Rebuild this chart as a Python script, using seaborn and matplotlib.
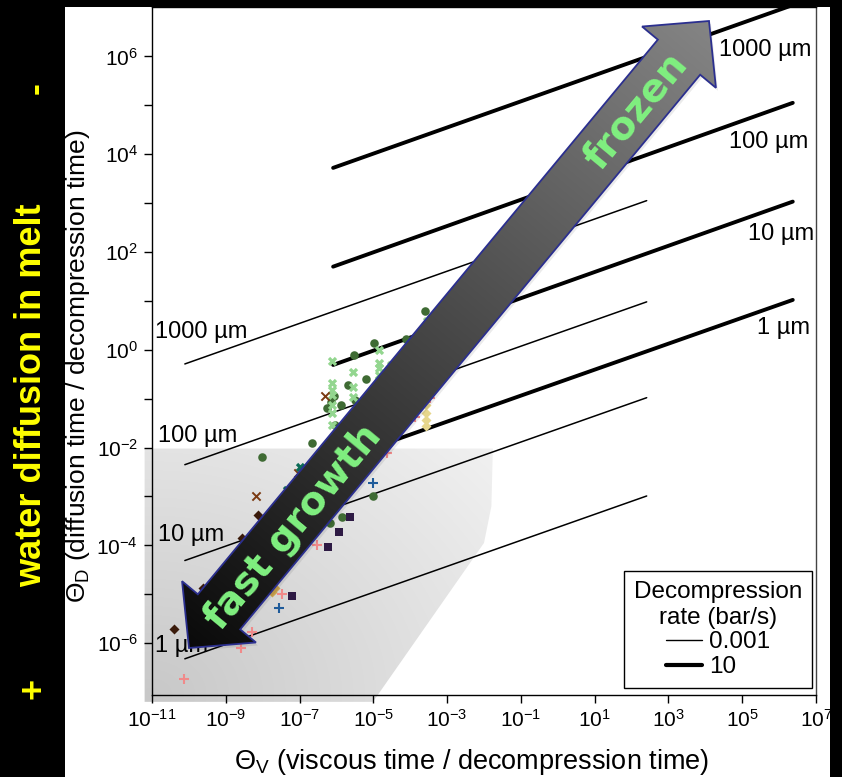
import numpy as np
import pandas as pd
import matplotlib
matplotlib.use("Agg")
import matplotlib.pyplot as plt
import seaborn as sns
from matplotlib.patches import Polygon, Rectangle
from matplotlib.lines import Line2D

# ---------------- data (log10 values) ----------------
size_labels = ["1 \u00b5m", "10 \u00b5m", "100 \u00b5m", "1000 \u00b5m"]

# thin curves: decompression rate 0.001 bar/s
thin_logx = [-10.11, 2.41]
thin_logy_start = [-6.32, -4.31, -2.35, -0.29]
thin_logy_end = [-2.99, -0.98, 0.98, 3.05]
# thick curves: decompression rate 10 bar/s
thick_logx = [-6.09, 6.37]
thick_logy_start = [-2.29, -0.31, 1.70, 3.72]
thick_logy_end = [1.02, 3.03, 5.05, 7.05]

# experimental points (log10 ThetaV, log10 ThetaD)
circ_x = [-3.60, -4.98, -4.12, -5.53, -5.20, -5.69, -6.07, -5.88, -6.15, -6.26,
          -5.25, -5.50, -6.04, -6.66, -8.02, -5.01, -5.85, -6.18]
circ_y = [0.80, 0.14, 0.22, -0.10, -0.59, -0.72, -0.94, -1.12, -1.06, -1.19,
          -1.00, -1.02, -1.53, -1.90, -2.19, -2.99, -3.42, -3.54]
lgx_x = [-6.12, -5.55, -4.85, -4.85, -4.85, -4.85, -4.85, -5.55, -5.55, -6.12,
         -6.12, -6.12, -6.12, -6.12, -4.52, -3.55, -3.55, -6.12]
lgx_y = [-0.22, -0.45, 0.00, -0.27, -0.37, -0.51, -0.61, -0.76, -0.96, -0.67,
         -0.82, -0.92, -1.29, -1.53, -0.31, 0.59, 0.47, -1.12]
brx_x = [-6.31, -8.18, -7.04]
brx_y = [-0.94, -2.99, -2.52]
tlx_x = [-6.99, -7.34]
tlx_y = [-2.39, -2.86]
dia_x = [-8.13, -8.56, -9.62, -10.40]
dia_y = [-3.37, -3.84, -4.87, -5.71]
sq_x = [-5.63, -5.93, -6.23, -7.21]
sq_y = [-3.42, -3.72, -4.03, -5.03]
pink_x = [-6.53, -4.63, -3.87, -3.47, -7.48, -8.29, -8.59, -10.13]
pink_y = [-3.99, -2.11, -1.37, -0.98, -4.99, -5.77, -6.09, -6.73]
blue_x = [-5.01, -7.56]
blue_y = [-2.72, -5.28]
yel_x = [-3.57, -3.57, -3.57, -3.57]
yel_y = [-1.12, -1.29, -1.43, -1.55]
tan_x = [-7.67, -7.75]
tan_y = [-4.87, -4.95]

# shaded "fast growth" region boundary (log10)
shade_x = [-11.2, -1.76, -1.80, -2.00, -5.01, -11.2]
shade_y = [-2.02, -2.02, -3.20, -3.95, -7.20, -7.20]

x_ticks = list(range(-11, 8, 2))
y_ticks = list(range(-6, 7))

# ---------------- style ----------------
sns.set_theme(style="ticks")
plt.rcParams["font.family"] = ["Liberation Sans", "DejaVu Sans"]
plt.rcParams["mathtext.fontset"] = "custom"
plt.rcParams["mathtext.rm"] = "Liberation Sans"
plt.rcParams["mathtext.it"] = "Liberation Sans:italic"
plt.rcParams["mathtext.bf"] = "Liberation Sans:bold"
for k in ["text.color", "axes.labelcolor", "xtick.color", "ytick.color", "axes.edgecolor"]:
    plt.rcParams[k] = "black"

W, H = 842, 777
fig = plt.figure(figsize=(W / 100, H / 100), dpi=100, facecolor="black")

# background axes (pixel coordinates)
bg = fig.add_axes([0, 0, 1, 1], zorder=0)
bg.set_xlim(0, W)
bg.set_ylim(H, 0)
bg.axis("off")
bg.add_patch(Rectangle((65, 7), 765, H - 7, facecolor="white", edgecolor="none"))

# main axes
L, R, T, B = 152, 816, 7, 695
ax = fig.add_axes([L / W, 1 - B / H, (R - L) / W, (B - T) / H], zorder=1)
ax.set_facecolor("none")
ax.set_xscale("log")
ax.set_yscale("log")
ax.set_xlim(10.0 ** -11, 10.0 ** 7)
ax.set_ylim(10.0 ** -7.06, 10.0 ** 7.01)

# shaded region with gradient, drawn in the background axes
pts = ax.transData.transform(np.c_[10.0 ** np.array(shade_x), 10.0 ** np.array(shade_y)])
pts[:, 1] = H - pts[:, 1]
shade_patch = Polygon(pts, closed=True, facecolor="none", edgecolor="none", transform=bg.transData)
bg.add_patch(shade_patch)
XX, YY = np.meshgrid(np.arange(W) + 0.5, np.arange(H) + 0.5)
d = np.sqrt(((XX - L) / 1.25) ** 2 + (B - YY) ** 2)
g = np.clip(0.785 + 0.13 * (d / 300.0), 0, 0.985)
img = np.dstack([g, g, g])
im = bg.imshow(img, extent=(0, W, H, 0), aspect="auto", interpolation="bilinear", zorder=1)
im.set_clip_path(shade_patch)
bg.set_xlim(0, W)
bg.set_ylim(H, 0)

# model curves
for i in range(4):
    sns.lineplot(x=10.0 ** np.array(thin_logx),
                 y=10.0 ** np.array([thin_logy_start[i], thin_logy_end[i]]),
                 color="black", lw=1.1, ax=ax, zorder=2, legend=False)
    sns.lineplot(x=10.0 ** np.array(thick_logx),
                 y=10.0 ** np.array([thick_logy_start[i], thick_logy_end[i]]),
                 color="black", lw=2.8, ax=ax, zorder=2, legend=False)

# scatter points
groups = [
    (circ_x, circ_y, "o", "#3f6b34", 38, 0),
    (lgx_x, lgx_y, "X", "#93d68f", 45, 0),
    (brx_x, brx_y, "x", "#7b3a12", 35, 1.4),
    (tlx_x, tlx_y, "X", "#0b6b56", 45, 0),
    (dia_x, dia_y, "D", "#3a1a0a", 26, 0),
    (sq_x, sq_y, "s", "#2e1a44", 34, 0),
    (pink_x, pink_y, "+", "#f08a8a", 60, 1.5),
    (blue_x, blue_y, "+", "#1f5b9a", 60, 1.5),
    (yel_x, yel_y, "D", "#e6d68c", 26, 0),
    (tan_x, tan_y, "D", "#c9a24e", 26, 0),
]
for gx, gy, m, c, s, lw in groups:
    df = pd.DataFrame({"x": 10.0 ** np.array(gx), "y": 10.0 ** np.array(gy)})
    if m in ("+", "x"):
        sns.scatterplot(data=df, x="x", y="y", marker=m, color=c, s=s,
                        linewidth=lw, ax=ax, zorder=3, legend=False)
    else:
        sns.scatterplot(data=df, x="x", y="y", marker=m, color=c, s=s,
                        linewidth=0, ax=ax, zorder=3, legend=False)

# curve labels
left_lab_x = [-10.93, -10.85, -10.85, -10.93]
left_lab_y = [-6.05, -3.78, -1.76, 0.37]
right_lab_x = [5.40, 5.15, 4.64, 4.37]
right_lab_y = [0.45, 2.36, 4.24, 6.14]
for i in range(4):
    ax.text(10.0 ** left_lab_x[i], 10.0 ** left_lab_y[i], size_labels[i],
            fontsize=17, ha="left", va="center", zorder=2)
    ax.text(10.0 ** right_lab_x[i], 10.0 ** right_lab_y[i], size_labels[i],
            fontsize=17, ha="left", va="center", zorder=2)

# axes decoration
ax.set_xticks([10.0 ** k for k in x_ticks])
ax.set_xticklabels([r"$\mathregular{10^{%d}}$" % k for k in x_ticks])
ax.set_yticks([10.0 ** k for k in y_ticks])
ax.set_yticklabels([r"$\mathregular{10^{%d}}$" % k if k % 2 == 0 else "" for k in y_ticks])
ax.minorticks_off()
ax.set_xlim(10.0 ** -11, 10.0 ** 7)
ax.set_ylim(10.0 ** -7.06, 10.0 ** 7.01)
ax.tick_params(axis="both", which="major", direction="out", length=6, width=1,
               colors="black", labelsize=15, pad=4)
for sp in ax.spines.values():
    sp.set_color("black")
    sp.set_linewidth(1.0)
    sp.set_visible(True)
ax.spines["right"].set_color("#444444")
ax.set_xlabel(r"$\Theta_{\mathregular{V}}$ (viscous time / decompression time)", fontsize=19.5)
ax.set_ylabel(r"$\Theta_{\mathregular{D}}$ (diffusion time / decompression time)", fontsize=19)
ax.xaxis.set_label_coords((472 - L) / (R - L), -(747 - B) / (B - T))
ax.yaxis.set_label_coords(-(L - 92) / (R - L), (B - 366) / (B - T))

leg = ax.legend(handles=[Line2D([], [], color="black", lw=1.0), Line2D([], [], color="black", lw=3.0)],
                labels=["0.001", "10"], title="Decompression\nrate (bar/s)",
                loc="lower right", bbox_to_anchor=(0.994, 0.010), borderaxespad=0.0,
                frameon=True, fancybox=False, edgecolor="black", framealpha=1,
                fontsize=17.5, title_fontsize=17.5, handlelength=1.5,
                handletextpad=0.3, borderpad=0.4, labelspacing=0.12)
leg.get_frame().set_linewidth(1.0)
leg.get_title().set_multialignment("center")
leg.set_zorder(5)

# overlay axes for the big arrow
ov = fig.add_axes([0, 0, 1, 1], zorder=3)
ov.set_xlim(0, W)
ov.set_ylim(H, 0)
ov.axis("off")
ov.patch.set_alpha(0)

T1 = np.array([189.0, 648.0])
T2 = np.array([709.0, 21.0])
u = (T2 - T1) / np.linalg.norm(T2 - T1)
n = np.array([u[1], -u[0]])
HL, HW, SW = 47.0, 48.0, 27.5
arrow_pts = np.array([
    T1, T1 + HL * u + HW * n, T1 + HL * u + SW * n, T2 - HL * u + SW * n,
    T2 - HL * u + HW * n, T2, T2 - HL * u - HW * n, T2 - HL * u - SW * n,
    T1 + HL * u - SW * n, T1 + HL * u - HW * n])
shadow = Polygon(arrow_pts + np.array([2, 3]), closed=True, facecolor="black",
                 edgecolor="none", alpha=0.08, zorder=1)
ov.add_patch(shadow)
arrow_clip = Polygon(arrow_pts, closed=True, facecolor="none", edgecolor="none", zorder=1)
ov.add_patch(arrow_clip)
t = ((XX - T1[0]) * u[0] + (YY - T1[1]) * u[1]) / np.linalg.norm(T2 - T1)
ga = np.clip(0.04 + 0.48 * t, 0, 1)
aim = ov.imshow(np.dstack([ga, ga, ga]), extent=(0, W, H, 0), aspect="auto",
                interpolation="bilinear", zorder=2)
aim.set_clip_path(arrow_clip)
ov.add_patch(Polygon(arrow_pts, closed=True, facecolor="none", edgecolor="#2b2f8f",
                     lw=1.3, zorder=3))
ov.set_xlim(0, W)
ov.set_ylim(H, 0)
ang = np.degrees(np.arctan2(T1[1] - T2[1], T2[0] - T1[0]))
ov.text(636, 111, "frozen", rotation=ang, rotation_mode="anchor", ha="center",
        va="center", color="#80f080", fontsize=28, fontweight="bold",
        family=["DejaVu Sans"], zorder=4)
ov.text(293, 527, "fast growth", rotation=ang, rotation_mode="anchor", ha="center",
        va="center", color="#80f080", fontsize=28, fontweight="bold",
        family=["DejaVu Sans"], zorder=4)

# yellow side annotation
fig.text(32 / W, 1 - 395 / H, "water diffusion in melt", rotation=90, ha="center",
         va="center", color="#ffff00", fontsize=26, fontweight="bold")
fig.text(34 / W, 1 - 688 / H, "+", rotation=90, ha="center", va="center",
         color="#ffff00", fontsize=26, fontweight="bold")
fig.text(36 / W, 1 - 88 / H, "-", rotation=90, ha="center", va="center",
         color="#ffff00", fontsize=26, fontweight="bold")

fig.savefig("out.png", dpi=100, facecolor="black")
